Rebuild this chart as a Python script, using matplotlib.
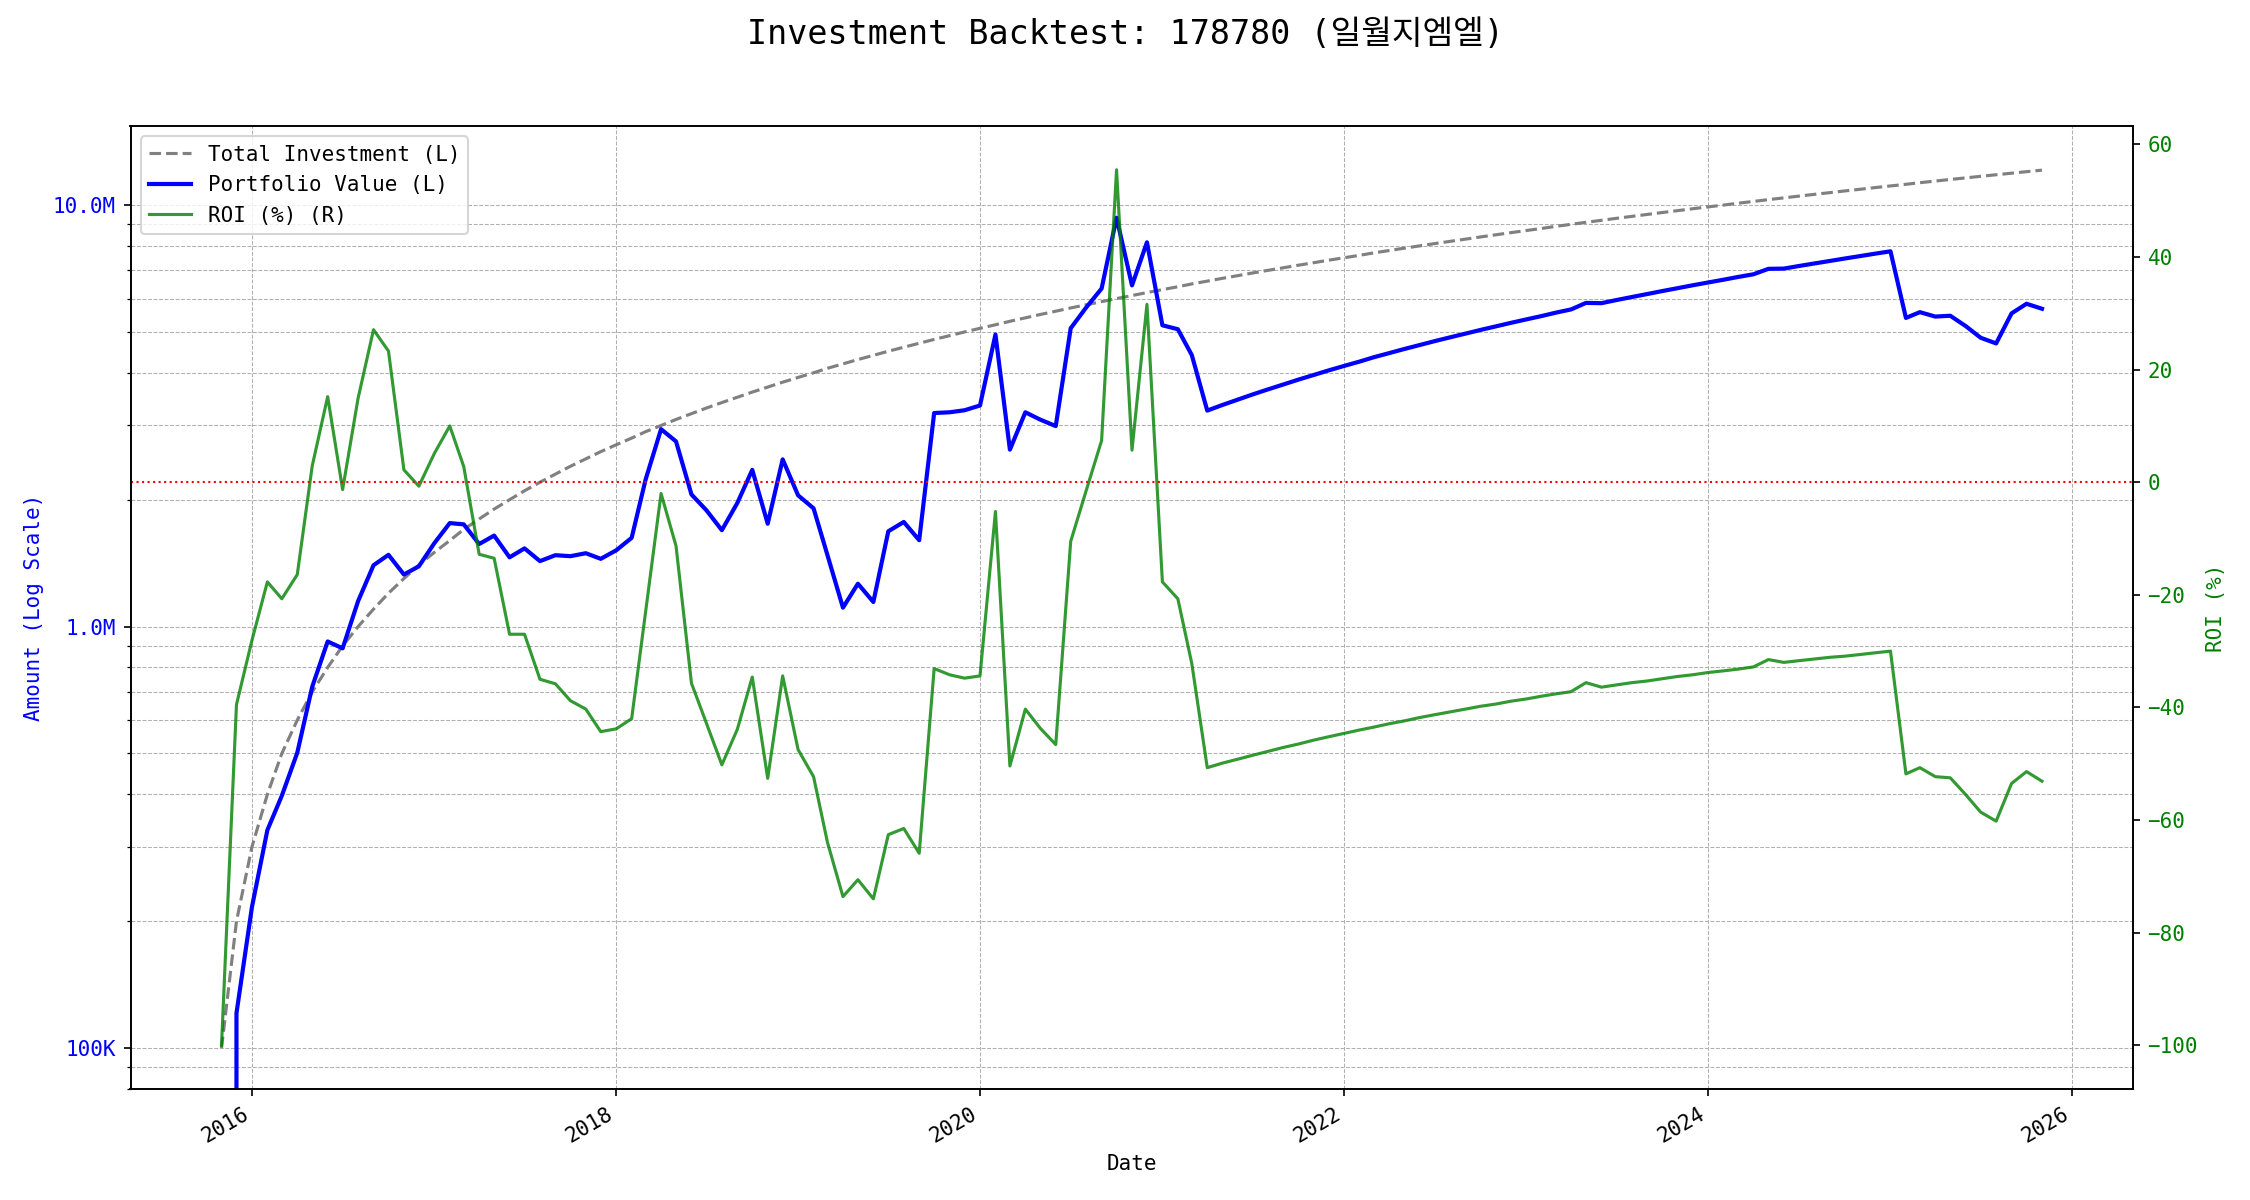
import numpy as np
import pandas as pd
import matplotlib
matplotlib.use("Agg")
import matplotlib.pyplot as plt
from matplotlib.ticker import FuncFormatter

plt.rcParams['font.family'] = ['DejaVu Sans Mono', 'Noto Sans CJK KR']

# 월별 데이터 (2015-11 ~ 2025-11)
dates = pd.date_range("2015-11-01", periods=121, freq="MS")

# 매월 적립금 (원)
monthly_deposit = [100_000] * 121

# 평가금액 (천원)
portfolio_k = [
    0, 121, 216, 329, 397, 502, 720, 922, 888, 1149,
    1398, 1480, 1329, 1390, 1577, 1760, 1748, 1570, 1644, 1460,
    1533, 1430, 1477, 1469, 1493, 1448, 1517, 1624, 2233, 2940,
    2750, 2058, 1888, 1693, 1964, 2354, 1754, 2493, 2048, 1908,
    1476, 1109, 1264, 1144, 1683, 1771, 1603, 3211, 3224, 3260,
    3346, 4930, 2629, 3224, 3097, 2990, 5102, 5713, 6337, 9330,
    6448, 8159, 5185, 5075, 4407, 3254, 3354, 3454, 3554, 3654,
    3754, 3854, 3954, 4054, 4154, 4254, 4354, 4454, 4554, 4654,
    4754, 4854, 4954, 5054, 5154, 5254, 5354, 5454, 5554, 5654,
    5860, 5851, 5951, 6051, 6151, 6251, 6351, 6451, 6551, 6651,
    6751, 6851, 7058, 7067, 7167, 7267, 7367, 7467, 7567, 7667,
    7767, 5398, 5571, 5438, 5463, 5162, 4844, 4696, 5534, 5832,
    5675,
]

# 수익률 (%)
roi = [
    -100.0, -39.5, -28.1, -17.7, -20.7, -16.4, 2.9, 15.2, -1.3, 14.9,
    27.1, 23.3, 2.2, -0.7, 5.1, 10.0, 2.8, -12.8, -13.5, -27.0,
    -27.0, -35.0, -35.8, -38.8, -40.3, -44.3, -43.8, -42.0, -23.0, -2.0,
    -11.3, -35.7, -42.8, -50.2, -43.9, -34.6, -52.6, -34.4, -47.5, -52.3,
    -64.0, -73.6, -70.6, -74.0, -62.6, -61.5, -65.9, -33.1, -34.2, -34.8,
    -34.4, -5.2, -50.4, -40.3, -43.7, -46.6, -10.5, -1.5, 7.4, 55.5,
    5.7, 31.6, -17.7, -20.7, -32.2, -50.7, -49.9, -49.2, -48.5, -47.8,
    -47.1, -46.5, -45.8, -45.2, -44.6, -44.0, -43.5, -42.9, -42.4, -41.8,
    -41.3, -40.8, -40.3, -39.8, -39.4, -38.9, -38.5, -38.0, -37.6, -37.2,
    -35.6, -36.4, -36.0, -35.6, -35.3, -34.9, -34.5, -34.2, -33.8, -33.5,
    -33.2, -32.8, -31.5, -32.0, -31.7, -31.4, -31.1, -30.9, -30.6, -30.3,
    -30.0, -51.8, -50.7, -52.3, -52.5, -55.5, -58.6, -60.2, -53.5, -51.4,
    -53.1,
]

total_investment = np.cumsum(monthly_deposit)
portfolio_value = np.array(portfolio_k) * 1000


def amount_fmt(x, pos):
    if x >= 1e6:
        return f"{x / 1e6:.1f}M"
    return f"{x / 1e3:.0f}K"


fig, ax1 = plt.subplots(figsize=(15, 8), dpi=150)

# 왼쪽 축: 금액 (로그)
l1, = ax1.plot(dates, total_investment, color="gray", linestyle="--", linewidth=1.5, label="Total Investment (L)")
l2, = ax1.plot(dates, portfolio_value, color="blue", linewidth=2, label="Portfolio Value (L)")
ax1.set_yscale("log")
ax1.set_ylim(80e3, 15.4e6)
ax1.yaxis.set_major_formatter(FuncFormatter(amount_fmt))
ax1.set_ylabel("Amount (Log Scale)", color="blue")
ax1.tick_params(axis="y", labelcolor="blue")
ax1.set_xlabel("Date")
ax1.grid(True, which="both", linestyle="--", linewidth=0.5)

# 오른쪽 축: 수익률
ax2 = ax1.twinx()
l3, = ax2.plot(dates, roi, color="green", alpha=0.8, linewidth=1.5, label="ROI (%) (R)")
ax2.axhline(0, color="red", linestyle=":", linewidth=1)
ax2.set_ylabel("ROI (%)", color="green")
ax2.tick_params(axis="y", labelcolor="green")

ax1.legend(handles=[l1, l2, l3], loc="upper left")
fig.autofmt_xdate()
fig.subplots_adjust(left=0.058, right=0.948, top=0.895, bottom=0.0925)
fig.suptitle("Investment Backtest: 178780 (일월지엠엘)", fontsize=16, y=0.985)

plt.savefig("out.png")
plt.close()
